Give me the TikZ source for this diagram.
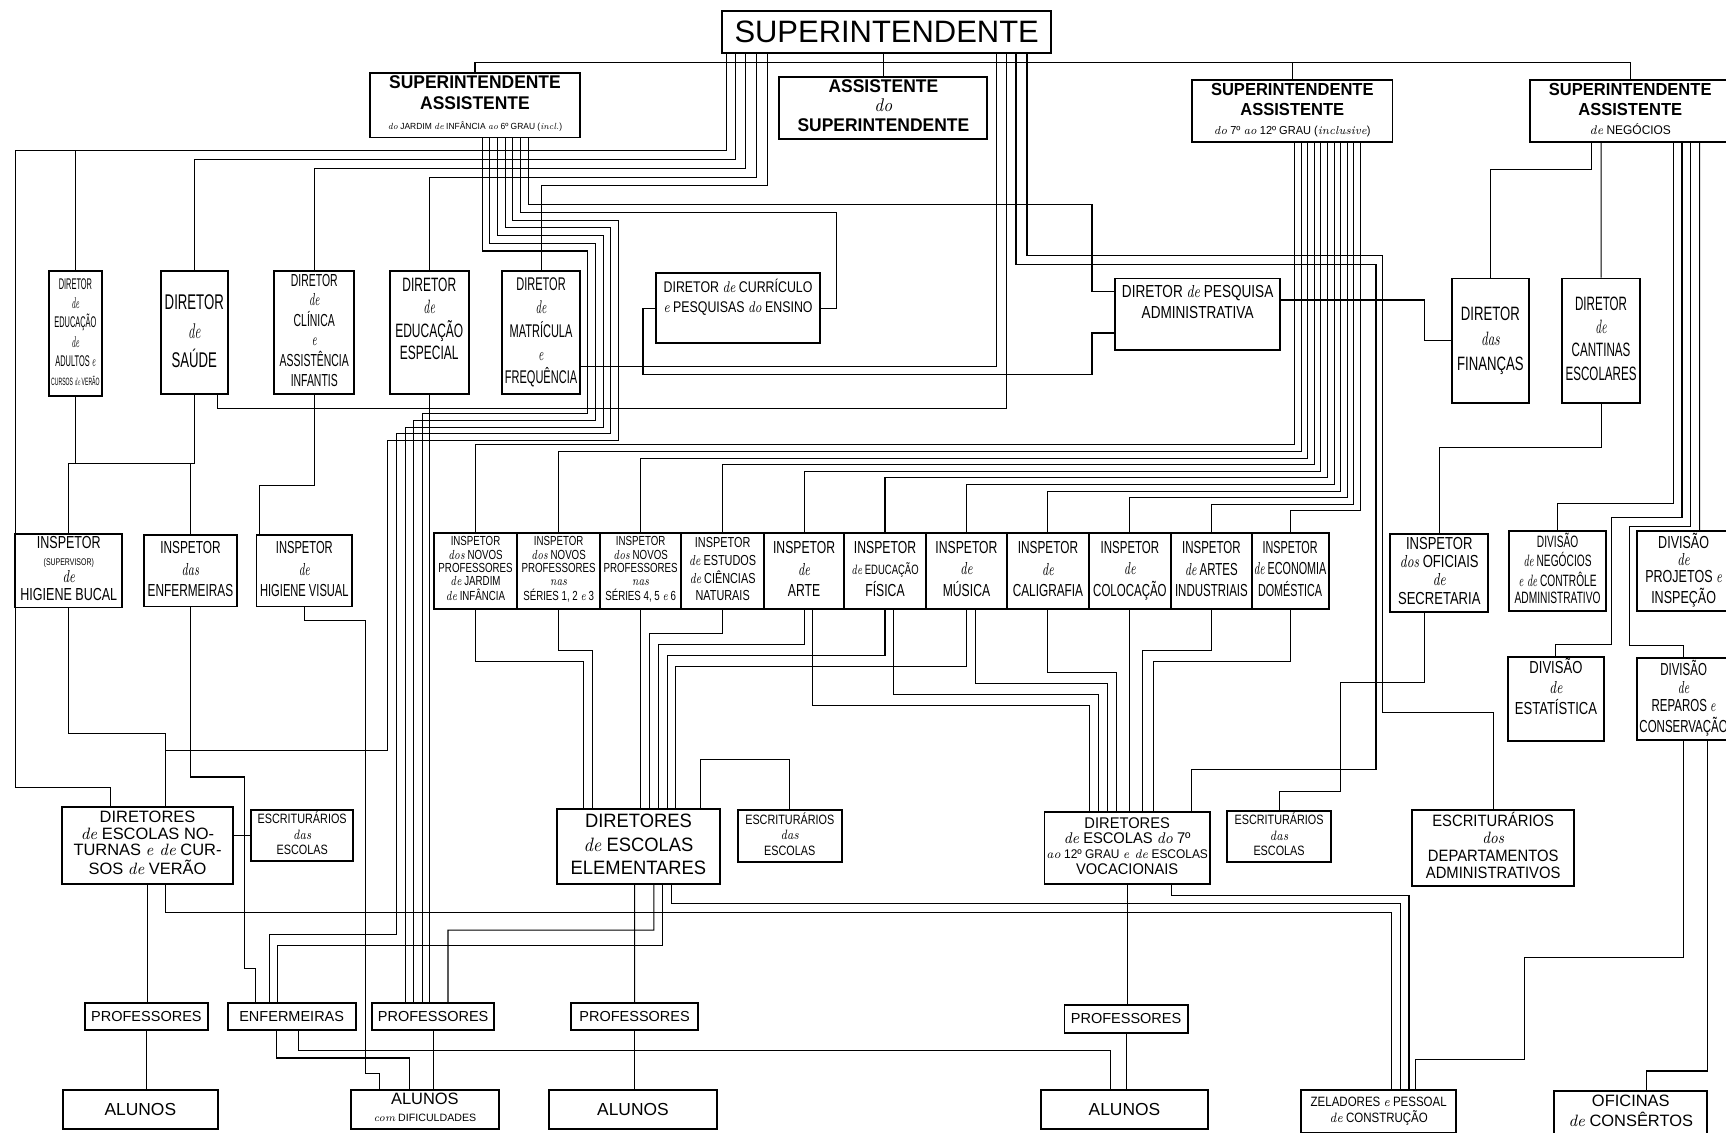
\documentclass[tikz,border=0pt]{standalone}
\usepackage{fontspec}
\setsansfont{Liberation Sans}
\usepackage{graphicx}
\usetikzlibrary{calc}
\newcommand{\cz}[2]{\scalebox{#1}[1]{\begin{tabular}{@{}c@{}}#2\end{tabular}}}
\newcommand{\lw}[1]{{\rmfamily\itshape #1}}
\tikzset{
  box/.style={draw, line width=1pt, inner sep=1pt, align=center, fill=white},
  cell/.style={box, minimum height=1.38cm},
  fs/.style 2 args={font=\sffamily\fontsize{#1}{#2}\selectfont},
  wire/.style={line width=0.55pt},
}
\begin{document}
\begin{tikzpicture}[x=0.02cm, y=-0.02cm]
    \useasboundingbox (0,0) rectangle (1568,1029);
    \fill[white] (0,0) rectangle (1568,1029);
    % top level
    \node[box, minimum width=5.98cm, minimum height=0.76cm, fs={16}{18}] (sup) at (805.5,29) {SUPERINTENDENTE};
    \node[box, minimum width=3.82cm, minimum height=1.02cm, fs={9.5}{10.5}] (aj) at (431.5,95.5) {\cz{0.95}{\bfseries SUPERINTENDENTE\\\bfseries ASSISTENTE\\{\fontsize{4.6}{5.5}\selectfont\lw{do} JARDIM \lw{de} INFÂNCIA \lw{ao} 6º GRAU (\lw{incl.})}}};
    \node[box, minimum width=3.78cm, minimum height=1cm, fs={9.5}{10}] (asup) at (802.5,98) {\cz{0.95}{\bfseries ASSISTENTE\\\lw{do}\\\bfseries SUPERINTENDENTE}};
    \node[box, minimum width=3.64cm, minimum height=1cm, fs={9}{10}] (ajs) at (1174,101) {\cz{0.95}{\bfseries SUPERINTENDENTE\\\bfseries ASSISTENTE\\{\fontsize{6}{7}\selectfont\lw{do} 7º \lw{ao} 12º GRAU (\lw{inclusive})}}};
    \node[box, minimum width=3.64cm, minimum height=1cm, fs={9}{10}] (an) at (1481,101) {\cz{0.95}{\bfseries SUPERINTENDENTE\\\bfseries ASSISTENTE\\{\fontsize{6.5}{7}\selectfont\lw{de} NEGÓCIOS}}};
    % directors
    \node[box, minimum width=0.9cm, minimum height=2.28cm, fs={8}{10}] (adultos) at (68.5,303) {\cz{0.48}{DIRETOR\\\lw{de}\\EDUCAÇÃO\\\lw{de}\\ADULTOS \lw{e}\\{\fontsize{5.5}{7}\selectfont CURSOS \lw{de} VERÃO}}};
    \node[box, minimum width=1.22cm, minimum height=2.24cm, fs={11}{15}] (saude) at (176.5,302) {\cz{0.62}{DIRETOR\\\lw{de}\\SAÚDE}};
    \node[box, minimum width=1.46cm, minimum height=2.24cm, fs={9}{10}] (clinica) at (285.5,302) {\cz{0.6}{DIRETOR\\\lw{de}\\CLÍNICA\\\lw{e}\\ASSISTÊNCIA\\INFANTIS}};
    \node[box, minimum width=1.44cm, minimum height=2.24cm, fs={10}{11.5}] (esp) at (390,302) {\cz{0.62}{DIRETOR\\\lw{de}\\EDUCAÇÃO\\ESPECIAL\\~}};
    \node[box, minimum width=1.42cm, minimum height=2.24cm, fs={9.5}{12}] (matric) at (491.5,302) {\cz{0.6}{DIRETOR\\\lw{de}\\MATRÍCULA\\\lw{e}\\FREQUÊNCIA}};
    \node[box, minimum width=2.98cm, minimum height=1.28cm, fs={8}{10}] (curric) at (670.5,280) {\cz{0.8}{DIRETOR \lw{de} CURRÍCULO\\\lw{e} PESQUISAS \lw{do} ENSINO\\~}};
    \node[box, minimum width=3cm, minimum height=1.3cm, fs={9}{11}] (pesq) at (1088,285.5) {\cz{0.78}{DIRETOR \lw{de} PESQUISA\\ADMINISTRATIVA\\~}};
    \node[box, minimum width=1.4cm, minimum height=2.26cm, fs={10}{13}] (finan) at (1354,309.5) {\cz{0.68}{DIRETOR\\\lw{das}\\FINANÇAS}};
    \node[box, minimum width=1.42cm, minimum height=2.26cm, fs={10}{12}] (cant) at (1454.5,309.5) {\cz{0.6}{DIRETOR\\\lw{de}\\CANTINAS\\ESCOLARES}};
    % inspectors
    \node[box, minimum width=1.94cm, minimum height=1.3cm, fs={9}{9}] (bucal) at (62.5,518.5) {\cz{0.72}{INSPETOR\\{\fontsize{5}{6}\selectfont(SUPERVISOR)}\\\lw{de}\\HIGIENE BUCAL}};
    \node[box, minimum width=1.68cm, minimum height=1.3cm, fs={9}{11}] (inspenf) at (173,518.5) {\cz{0.68}{INSPETOR\\\lw{das}\\ENFERMEIRAS}};
    \node[box, minimum width=1.74cm, minimum height=1.3cm, fs={9}{11}] (visual) at (276.5,518.5) {\cz{0.64}{INSPETOR\\\lw{de}\\HIGIENE VISUAL}};
    \node[cell, minimum width=1.52cm, fs={6.8}{6.8}] (c1) at (432,518.5) {\cz{0.74}{INSPETOR\\\lw{dos} NOVOS\\PROFESSORES\\\lw{de} JARDIM\\\lw{de} INFÂNCIA}};
    \node[cell, minimum width=1.5cm, fs={6.8}{6.8}] (c2) at (507.5,518.5) {\cz{0.74}{INSPETOR\\\lw{dos} NOVOS\\PROFESSORES\\\lw{nas}\\SÉRIES 1, 2 \lw{e} 3}};
    \node[cell, minimum width=1.48cm, fs={6.8}{6.8}] (c3) at (582,518.5) {\cz{0.74}{INSPETOR\\\lw{dos} NOVOS\\PROFESSORES\\\lw{nas}\\SÉRIES 4, 5 \lw{e} 6}};
    \node[cell, minimum width=1.5cm, fs={7.5}{9}] (c4) at (656.5,518.5) {\cz{0.75}{INSPETOR\\\lw{de} ESTUDOS\\\lw{de} CIÊNCIAS\\NATURAIS}};
    \node[cell, minimum width=1.46cm, fs={9}{11}] (c5) at (730.5,518.5) {\cz{0.7}{INSPETOR\\\lw{de}\\ARTE}};
    \node[cell, minimum width=1.48cm, fs={9}{11}] (c6) at (804,518.5) {\cz{0.7}{INSPETOR\\{\fontsize{7}{8}\selectfont\lw{de} EDUCAÇÃO}\\FÍSICA}};
    \node[cell, minimum width=1.48cm, fs={9}{11}] (c7) at (878,518.5) {\cz{0.7}{INSPETOR\\\lw{de}\\MÚSICA}};
    \node[cell, minimum width=1.48cm, fs={9}{11}] (c8) at (952,518.5) {\cz{0.68}{INSPETOR\\\lw{de}\\CALIGRAFIA}};
    \node[cell, minimum width=1.5cm, fs={9}{11}] (c9) at (1026.5,518.5) {\cz{0.66}{INSPETOR\\\lw{de}\\COLOCAÇÃO}};
    \node[cell, minimum width=1.46cm, fs={9}{11}] (c10) at (1100.5,518.5) {\cz{0.66}{INSPETOR\\\lw{de} ARTES\\INDUSTRIAIS}};
    \node[cell, minimum width=1.4cm, fs={9}{11}] (c11) at (1172,518.5) {\cz{0.62}{INSPETOR\\\lw{de} ECONOMIA\\DOMÉSTICA}};
    \node[box, minimum width=1.78cm, minimum height=1.38cm, fs={9}{9.5}] (oficiais) at (1307.5,520.5) {\cz{0.75}{INSPETOR\\\lw{dos} OFICIAIS\\\lw{de}\\SECRETARIA}};
    \node[box, minimum width=1.76cm, minimum height=1.3cm, fs={8.5}{9}] (divneg) at (1415,518.5) {\cz{0.62}{DIVISÃO\\\lw{de} NEGÓCIOS\\\lw{e de} CONTRÔLE\\ADMINISTRATIVO}};
    \node[box, minimum width=1.7cm, minimum height=1.3cm, fs={9}{9}] (divproj) at (1529.5,518.5) {\cz{0.72}{DIVISÃO\\\lw{de}\\PROJETOS \lw{e}\\INSPEÇÃO}};
    \node[box, minimum width=1.74cm, minimum height=1.4cm, fs={9}{10}] (divest) at (1413.5,635) {\cz{0.75}{DIVISÃO\\\lw{de}\\ESTATÍSTICA\\~}};
    \node[box, minimum width=1.7cm, minimum height=1.4cm, fs={9}{9.5}] (divrep) at (1529.5,635) {\cz{0.66}{DIVISÃO\\\lw{de}\\REPAROS \lw{e}\\CONSERVAÇÃO}};
    % school directors and clerks
    \node[box, minimum width=3.12cm, minimum height=1.4cm, fs={8.5}{8.5}] (noturnas) at (134,768) {\cz{1}{DIRETORES\\\lw{de} ESCOLAS NO-\\TURNAS \lw{e de} CUR-\\SOS \lw{de} VERÃO}};
    \node[box, minimum width=1.86cm, minimum height=0.92cm, fs={7}{8}] (escrn) at (274.5,759) {\cz{0.8}{ESCRITURÁRIOS\\\lw{das}\\ESCOLAS}};
    \node[box, minimum width=2.96cm, minimum height=1.36cm, fs={10}{12}] (elem) at (580,769) {\cz{0.95}{DIRETORES\\\lw{de} ESCOLAS\\ELEMENTARES}};
    \node[box, minimum width=1.9cm, minimum height=0.9cm, fs={7}{8}] (escre) at (717.5,759.5) {\cz{0.8}{ESCRITURÁRIOS\\\lw{das}\\ESCOLAS}};
    \node[box, minimum width=2.96cm, minimum height=1.3cm, fs={8}{8}] (vocac) at (1024,770.5) {\cz{0.95}{DIRETORES\\\lw{de} ESCOLAS \lw{do} 7º\\{\fontsize{6.5}{7}\selectfont\lw{ao} 12º GRAU \lw{e de} ESCOLAS}\\VOCACIONAIS}};
    \node[box, minimum width=1.88cm, minimum height=0.92cm, fs={7}{8}] (escrv) at (1162,760) {\cz{0.8}{ESCRITURÁRIOS\\\lw{das}\\ESCOLAS}};
    \node[box, minimum width=2.94cm, minimum height=1.3cm, fs={8.5}{9}] (escrdep) at (1356.5,770.5) {\cz{0.9}{ESCRITURÁRIOS\\\lw{dos}\\DEPARTAMENTOS\\ADMINISTRATIVOS}};
    % teachers, pupils, staff
    \node[box, minimum width=2.24cm, minimum height=0.5cm, fs={7.5}{8}] (prof1) at (133,923.5) {PROFESSORES};
    \node[box, minimum width=2.32cm, minimum height=0.5cm, fs={7.5}{8}] (enf) at (265,923.5) {ENFERMEIRAS};
    \node[box, minimum width=2.22cm, minimum height=0.5cm, fs={7.5}{8}] (prof2) at (393.5,923.5) {PROFESSORES};
    \node[box, minimum width=2.3cm, minimum height=0.5cm, fs={7.5}{8}] (prof3) at (576.5,923.5) {PROFESSORES};
    \node[box, minimum width=2.24cm, minimum height=0.5cm, fs={7.5}{8}] (prof4) at (1023,925.5) {PROFESSORES};
    \node[box, minimum width=2.82cm, minimum height=0.72cm, fs={9}{10}] (al1) at (127.5,1008) {ALUNOS};
    \node[box, minimum width=2.68cm, minimum height=0.72cm, fs={8.5}{9}] (aldif) at (386,1008) {\cz{1}{ALUNOS\\{\fontsize{5.5}{6}\selectfont\lw{com} DIFICULDADES}}};
    \node[box, minimum width=3.04cm, minimum height=0.72cm, fs={9}{10}] (al2) at (575,1008) {ALUNOS};
    \node[box, minimum width=3.02cm, minimum height=0.72cm, fs={9}{10}] (al3) at (1021.5,1008) {ALUNOS};
    \node[box, minimum width=2.82cm, minimum height=0.78cm, fs={7}{8.5}] (zel) at (1252.5,1009.5) {\cz{0.85}{ZELADORES \lw{e} PESSOAL\\\lw{de} CONSTRUÇÃO}};
    \node[box, minimum width=2.78cm, minimum height=0.74cm, fs={8.5}{10}] (ofic) at (1481.5,1010.5) {\cz{1}{OFICINAS\\\lw{de} CONSÊRTOS}};

    % superintendent and assistants
    \coordinate (bus) at (806,57);
    \coordinate (l137) at (0,137);
    \draw[wire] ($(sup.south)+(-3,0)$) -- (asup.north);
    \draw[wire] (aj.north) |- (bus) -| (an.north);
    \draw[wire] (ajs.north) -- (ajs.north |- bus);
    % superintendent to directors (left group)
    \draw[wire] ($(sup.south)+(-145.5,0)$) |- (14,137) -- (14,715) -| ($(noturnas.north)+(-34,0)$);
    \draw[wire] (adultos.north) -- (adultos.north |- l137);
    \draw[wire] ($(sup.south)+(-137.5,0)$) -- ++(0,96) -| (saude.north);
    \draw[wire] ($(sup.south)+(-128.5,0)$) -- ++(0,104) -| (clinica.north);
    \draw[wire] ($(sup.south)+(-118.5,0)$) -- ++(0,112) -| (esp.north);
    \draw[wire] ($(sup.south)+(-108.5,0)$) -- ++(0,120) -| (matric.north);
    % superintendent (right group)
    \draw[wire] ($(sup.south)+(99.5,0)$) |- ($(matric.east)+(0,31)$);
    \draw[wire] ($(sup.south)+(108.5,0)$) |- ($(saude.south)+(21.5,12)$) -- ($(saude.south)+(21.5,0)$);
    \draw[wire] ($(sup.south)+(117.5,0)$) |- (1250,240) |- ($(vocac.north)+(58,-38)$) -- ($(vocac.north)+(58,0)$);
    \draw[wire] ($(sup.south)+(127.5,0)$) |- (1256,232) |- ($(escrdep.north)+(0,-88)$) -- (escrdep.north);
    % kindergarten to 6th grade assistant
    \draw[wire] ($(aj.south)+(6.5,0)$) |- (534,228) |- (384,376) -- ($(prof2.north)+(-9.5,0)$);
    \draw[wire] ($(aj.south)+(13.5,0)$) |- (541,221) |- (376,382) -- ($(prof2.north)+(-17.5,0)$);
    \draw[wire] ($(aj.south)+(20.5,0)$) |- (548,214) |- (368,388) -- ($(prof2.north)+(-25.5,0)$);
    \draw[wire] ($(aj.south)+(27.5,0)$) |- (555,207) |- (360,394) |- ($(enf.north)+(-20,-61)$) -- ($(enf.north)+(-20,0)$);
    \draw[wire] ($(aj.south)+(34.5,0)$) |- (562,200) |- (352,400) |- ($(noturnas.north)+(16,-50)$) -- ($(noturnas.north)+(16,0)$);
    \draw[wire] ($(aj.south)+(41.5,0)$) |- (760,193) |- (curric.east);
    \draw[wire] ($(aj.south)+(48.5,0)$) |- (992,186) |- ($(pesq.west)+(0,-21)$);
    % between directors
    \draw[wire] (curric.west) -- ++(-11,0) |- (992,340) |- ($(pesq.west)+(0,17)$);
    \draw[wire] ($(pesq.east)+(0,-13)$) -- ++(130,0) |- (finan.west);
    \draw[wire] (adultos.south) -- ++(0,60) -| (bucal.north);
    \draw[wire] (saude.south) -- ++(0,62) -| (bucal.north);
    \draw[wire] (saude.south) -- ++(0,62) -| (inspenf.north);
    \draw[wire] (clinica.south) -- ++(0,82) -| ($(visual.north)+(-40.5,0)$);
    \draw[wire] (esp.south) -- (esp.south |- prof2.north);
    % 7th to 12th grade assistant to the inspectors
    \draw[wire] ($(ajs.south)+(2,0)$) |- ($(c1.north)+(0,-79)$) -- (c1.north);
    \draw[wire] ($(ajs.south)+(8,0)$) |- ($(c2.north)+(0,-73)$) -- (c2.north);
    \draw[wire] ($(ajs.south)+(14,0)$) |- ($(c3.north)+(0,-67)$) -- (c3.north);
    \draw[wire] ($(ajs.south)+(20,0)$) |- ($(c4.north)+(0,-61)$) -- (c4.north);
    \draw[wire] ($(ajs.south)+(26,0)$) |- ($(c5.north)+(0,-55)$) -- (c5.north);
    \draw[wire] ($(ajs.south)+(32,0)$) |- ($(c6.north)+(0,-49)$) -- (c6.north);
    \draw[wire] ($(ajs.south)+(38,0)$) |- ($(c7.north)+(0,-43)$) -- (c7.north);
    \draw[wire] ($(ajs.south)+(44,0)$) |- ($(c8.north)+(0,-37)$) -- (c8.north);
    \draw[wire] ($(ajs.south)+(50,0)$) |- ($(c9.north)+(0,-31)$) -- (c9.north);
    \draw[wire] ($(ajs.south)+(56,0)$) |- ($(c10.north)+(0,-25)$) -- (c10.north);
    \draw[wire] ($(ajs.south)+(62,0)$) |- ($(c11.north)+(0,-19)$) -- (c11.north);
    % inspectors to school directors
    \draw[wire] (c1.south) -- ++(0,47) -| ($(elem.north)+(-50,0)$);
    \draw[wire] (c2.south) -- ++(0,37) -| ($(elem.north)+(-42,0)$);
    \draw[wire] (c3.south) -- ($(elem.north)+(2,0)$);
    \draw[wire] (c4.south) -- ++(0,22) -| ($(elem.north)+(10,0)$);
    \draw[wire] (c5.south) -- ++(0,32) -| ($(elem.north)+(18,0)$);
    \draw[wire] (c6.south) -- ++(0,42) -| ($(elem.north)+(26,0)$);
    \draw[wire] (c7.south) -- ++(0,52) -| ($(elem.north)+(34,0)$);
    \draw[wire] ($(c5.south)+(8,0)$) -- ++(0,87) -| ($(vocac.north)+(-34,0)$);
    \draw[wire] ($(c6.south)+(8,0)$) -- ++(0,77) -| ($(vocac.north)+(-26,0)$);
    \draw[wire] ($(c7.south)+(8,0)$) -- ++(0,67) -| ($(vocac.north)+(-18,0)$);
    \draw[wire] (c8.south) -- ++(0,57) -| ($(vocac.north)+(-10,0)$);
    \draw[wire] (c9.south) -- ($(vocac.north)+(2.5,0)$);
    \draw[wire] (c10.south) -- ++(0,37) -| ($(vocac.north)+(14,0)$);
    \draw[wire] (c11.south) -- ++(0,47) -| ($(vocac.north)+(24,0)$);
    \draw[wire] (bucal.south) -- ++(0,114) -| ($(noturnas.north)+(16,0)$);
    \draw[wire] (inspenf.south) -- ++(0,154) -| (222,880) -| ($(enf.north)+(-33,0)$);
    \draw[wire] (visual.south) -- ++(0,12) -| (332,975) -| ($(aldif.north)+(-41,0)$);
    % clerks
    \draw[wire] (escrn.west) -- (escrn.west -| noturnas.east);
    \draw[wire] (escre.north) -- ++(0,-45) -| ($(elem.north)+(56,0)$);
    \draw[wire] ($(oficiais.south)+(-13,0)$) |- (1218,620) |- ($(escrv.north)+(0,-17)$) -- (escrv.north);
    % business assistant
    \draw[wire] ($(an.south)+(-35,0)$) -- ++(0,24) -| (finan.north);
    \draw[wire] ($(an.south)+(-26.5,0)$) -- (cant.north);
    \draw[wire] (cant.south) -- ++(0,40) -| (oficiais.north);
    \draw[wire] ($(an.south)+(39,0)$) |- ($(divneg.north)+(0,-24)$) -- (divneg.north);
    \draw[wire] ($(an.south)+(47,0)$) |- (1464,470) |- ($(divest.north)+(0,-10)$) -- (divest.north);
    \draw[wire] ($(an.south)+(55,0)$) |- (1480,478) |- ($(divrep.north)+(0,-10)$) -- (divrep.north);
    \draw[wire] ($(an.south)+(63,0)$) -- ($(divproj.north)+(14.5,0)$);
    \draw[wire] (divrep.south) |- (1385,870) |- ($(zel.north)+(33.5,-27)$) -- ($(zel.north)+(33.5,0)$);
    \draw[wire] ($(divrep.south)+(22,0)$) |- ($(ofic.north)+(14.5,-17)$) -- ($(ofic.north)+(14.5,0)$);
    % school directors to teachers and staff
    \draw[wire] (noturnas.south) -- (noturnas.south |- prof1.north);
    \draw[wire] ($(elem.south)+(-3.5,0)$) -- (prof3.north);
    \draw[wire] ($(elem.south)+(14,0)$) |- (407,845) -- ($(prof2.north)+(13.5,0)$);
    \draw[wire] ($(elem.south)+(22,0)$) |- ($(enf.north)+(-13,-51)$) -- ($(enf.north)+(-13,0)$);
    \draw[wire] (vocac.south) -- (vocac.south |- prof4.north);
    \draw[wire] ($(noturnas.south)+(16,0)$) |- ($(zel.north)+(11.5,-160)$) -- ($(zel.north)+(11.5,0)$);
    \draw[wire] ($(elem.south)+(30,0)$) |- ($(zel.north)+(19.5,-168)$) -- ($(zel.north)+(19.5,0)$);
    \draw[wire] ($(vocac.south)+(40,0)$) |- ($(zel.north)+(27.5,-176)$) -- ($(zel.north)+(27.5,0)$);
    % teachers and nurses to pupils
    \draw[wire] (prof1.south) -- (prof1.south |- al1.north);
    \draw[wire] (prof2.south) -- (prof2.south |- aldif.north);
    \draw[wire] (prof3.south) -- (prof3.south |- al2.north);
    \draw[wire] (prof4.south) -- (prof4.south |- al3.north);
    \draw[wire] ($(enf.south)+(-14,0)$) |- ($(aldif.north)+(-14,-28)$) -- ($(aldif.north)+(-14,0)$);
    \draw[wire] ($(enf.south)+(6,0)$) |- ($(al3.north)+(-12.5,-35)$) -- ($(al3.north)+(-12.5,0)$);
  \end{tikzpicture}
\end{document}
